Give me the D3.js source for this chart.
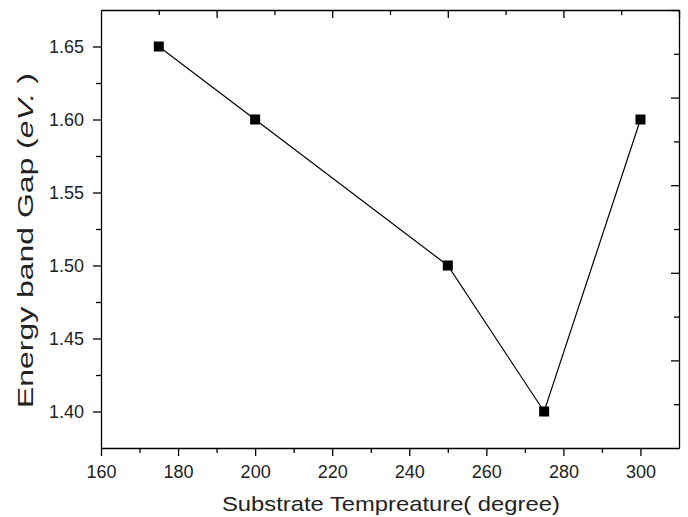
<!DOCTYPE html>
<html>
<head>
<meta charset="utf-8">
<script src="https://cdn.jsdelivr.net/npm/d3@7"></script>
<style>
  body { margin: 0; background: #fff; }
  svg { display: block; font-family: "Liberation Sans", Arial, sans-serif; }
  .axis path, .axis line { stroke: #000; stroke-width: 1.3; }
  .axis text { font-size: 18px; fill: #222; font-family: "Liberation Sans", Arial, sans-serif; }
</style>
</head>
<body>
<svg width="688" height="517"></svg>
<script>
// data
const temps = [175, 200, 250, 275, 300];
const gaps = [1.65, 1.60, 1.50, 1.40, 1.60];

const xTicksMajor = [160, 180, 200, 220, 240, 260, 280, 300];
const yTicksMajor = [1.40, 1.45, 1.50, 1.55, 1.60, 1.65];

var margins = { left: 101, right: 9, top: 10, bottom: 69 };
const canvasW = 688, canvasH = 517;
const w = canvasW - margins.left - margins.right;
const h = canvasH - margins.top - margins.bottom;

const svg = d3.select('svg');
const chart = svg.append('g')
    .attr('transform', `translate(${margins.left},${margins.top})`);

const xScale = d3.scaleLinear().domain([160, 310]).range([0, w]);
const yScale = d3.scaleLinear().domain([1.375, 1.675]).range([h, 0]);

// minor ticks
const xMinor = d3.range(170, 310, 20);
const yMinor = d3.range(1.425, 1.675, 0.05);
// top / right axes carry their own tick spacing
const topMajor = d3.range(190, 311, 30);
const topMinor = d3.range(175, 310, 30);
const rightMajor = d3.range(0, 5).map(i => +(1.435 + i * 0.06).toFixed(3));
const rightMinor = d3.range(0, 5).map(i => +(1.405 + i * 0.06).toFixed(3));

// bottom axis
chart.append('g').attr('class', 'axis')
    .attr('transform', `translate(0,${h})`)
    .call(d3.axisBottom(xScale).tickValues(xTicksMajor).tickFormat(d3.format('d'))
        .tickSize(8).tickSizeOuter(0).tickPadding(9));
chart.append('g').attr('class', 'axis')
    .attr('transform', `translate(0,${h})`)
    .call(d3.axisBottom(xScale).tickValues(xMinor).tickFormat('').tickSize(5).tickSizeOuter(0))
    .select('.domain').remove();

// left axis
chart.append('g').attr('class', 'axis')
    .call(d3.axisLeft(yScale).tickValues(yTicksMajor).tickFormat(d3.format('.2f'))
        .tickSize(8).tickSizeOuter(0).tickPadding(9));
chart.append('g').attr('class', 'axis')
    .call(d3.axisLeft(yScale).tickValues(yMinor).tickFormat('').tickSize(5).tickSizeOuter(0))
    .select('.domain').remove();

// top axis, ticks inward
chart.append('g').attr('class', 'axis')
    .call(d3.axisTop(xScale).tickValues(topMajor).tickFormat('').tickSize(-8).tickSizeOuter(0));
chart.append('g').attr('class', 'axis')
    .call(d3.axisTop(xScale).tickValues(topMinor).tickFormat('').tickSize(-5).tickSizeOuter(0))
    .select('.domain').remove();

// right axis, ticks inward
chart.append('g').attr('class', 'axis')
    .attr('transform', `translate(${w},0)`)
    .call(d3.axisRight(yScale).tickValues(rightMajor).tickFormat('').tickSize(-8).tickSizeOuter(0));
chart.append('g').attr('class', 'axis')
    .attr('transform', `translate(${w},0)`)
    .call(d3.axisRight(yScale).tickValues(rightMinor).tickFormat('').tickSize(-5).tickSizeOuter(0))
    .select('.domain').remove();

// line + markers
const line = d3.line().x((d, i) => xScale(temps[i])).y(d => yScale(d));
chart.append('path')
    .datum(gaps)
    .attr('d', line)
    .attr('fill', 'none')
    .attr('stroke', '#000')
    .attr('stroke-width', 1.2);

const sz = 10;
chart.selectAll('rect.pt')
    .data(gaps)
    .enter()
    .append('rect')
    .attr('class', 'pt')
    .attr('x', (d, i) => xScale(temps[i]) - sz / 2)
    .attr('y', d => yScale(d) - sz / 2)
    .attr('width', sz)
    .attr('height', sz)
    .attr('fill', '#000');

// axis titles: original glyphs are wider than Liberation Sans,
// so stretch each title along its own direction to the measured length
const xt = svg.append('text')
    .style('font-size', '21px')
    .attr('fill', '#222')
    .text('Substrate Tempreature( degree)');
const xLen = xt.node().getComputedTextLength();
xt.attr('transform', `translate(222,511) scale(${338 / xLen},1)`);

const yt = svg.append('text')
    .style('font-size', '22px')
    .attr('fill', '#222');
yt.append('tspan').text('Energy band Gap (');
yt.append('tspan').style('font-style', 'italic').text('eV.');
yt.append('tspan').text(' )');
const yLen = yt.node().getComputedTextLength();
yt.attr('transform', `translate(33,408) rotate(-90) scale(${335 / yLen},1)`);
</script>
</body>
</html>
